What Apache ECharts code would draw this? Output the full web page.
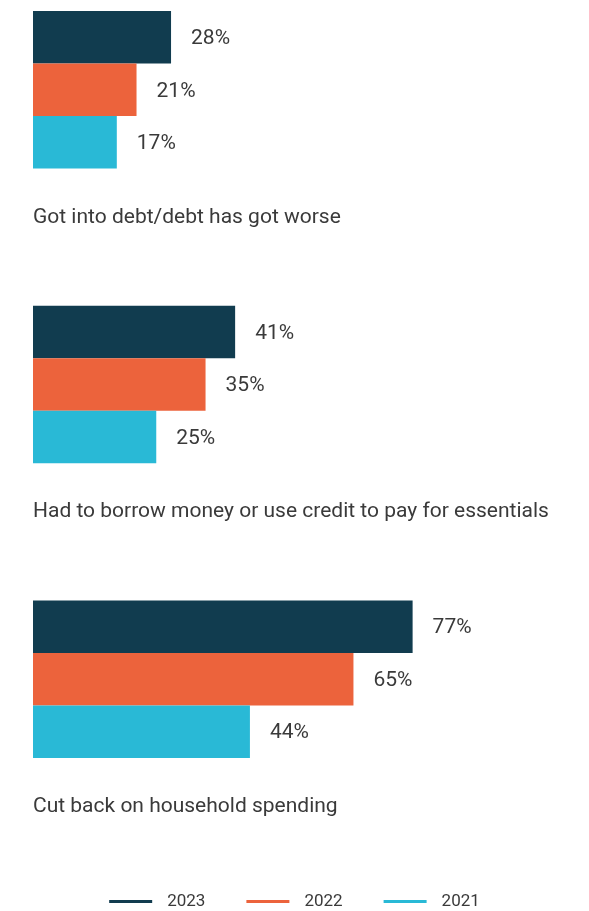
<!DOCTYPE html>
<html>
<head>
<meta charset="utf-8">
<script src="https://cdn.jsdelivr.net/npm/echarts@6/dist/echarts.min.js"></script>
<style>
  html, body { margin: 0; padding: 0; background: #ffffff; }
  #chart { width: 589px; height: 911px; }
</style>
</head>
<body>
<div id="chart"></div>
<script>
// Share of respondents reporting each financial strain, by survey year
var categories = [
  'Got into debt/debt has got worse',
  'Had to borrow money or use credit to pay for essentials',
  'Cut back on household spending'
];
var years = ['2023', '2022', '2021'];
var values2023 = [28, 41, 77];
var values2022 = [21, 35, 65];
var values2021 = [17, 25, 44];

var palette = ['#113c4f', '#ec633c', '#29b9d6'];
var textColor = '#3a3a3a';
var fontFamily = 'Roboto, "Noto Sans", sans-serif';

var BAR = 52.5;      // thickness of each year's bar
var CAPTION = 137.2; // room under each group for its caption

var chart = echarts.init(document.getElementById('chart'), null, { renderer: 'canvas' });

function barSeries(name, data, color) {
  return {
    name: name,
    type: 'bar',
    data: data,
    barWidth: BAR,
    barGap: '0%',
    itemStyle: { color: color },
    label: {
      show: true,
      position: 'right',
      distance: 20,
      offset: [0, 1.5],
      formatter: '{c}%',
      color: textColor,
      fontSize: 21,
      fontFamily: fontFamily
    },
    emphasis: { disabled: true },
    silent: true
  };
}

// Transparent slot below the three bars; its label carries the group caption
var captionSeries = {
  name: 'caption',
  type: 'bar',
  data: categories.map(function () { return 0; }),
  barWidth: CAPTION,
  barGap: '0%',
  itemStyle: { color: 'rgba(0,0,0,0)' },
  label: {
    show: true,
    position: 'right',
    distance: 0,
    offset: [0, -19.8],
    formatter: function (p) { return p.name; },
    color: textColor,
    fontSize: 21,
    fontFamily: fontFamily
  },
  emphasis: { disabled: true },
  silent: true
};

chart.setOption({
  animation: false,
  backgroundColor: '#ffffff',
  textStyle: { fontFamily: fontFamily },
  grid: { left: 33, right: 63, top: 11, bottom: 15.9, containLabel: false },
  xAxis: {
    type: 'value',
    min: 0,
    max: 100,
    show: false
  },
  yAxis: {
    type: 'category',
    data: categories,
    inverse: true,
    axisLine: { show: false },
    axisTick: { show: false },
    splitLine: { show: false },
    axisLabel: { show: false }
  },
  legend: {
    data: years,
    left: 'center',
    top: 888,
    icon: 'rect',
    itemWidth: 43,
    itemHeight: 3,
    itemGap: 41,
    textStyle: {
      color: textColor,
      fontSize: 17,
      fontFamily: fontFamily,
      padding: [0, 0, 0, 10]
    }
  },
  series: [
    barSeries(years[0], values2023, palette[0]),
    barSeries(years[1], values2022, palette[1]),
    barSeries(years[2], values2021, palette[2]),
    captionSeries
  ]
});
</script>
</body>
</html>
